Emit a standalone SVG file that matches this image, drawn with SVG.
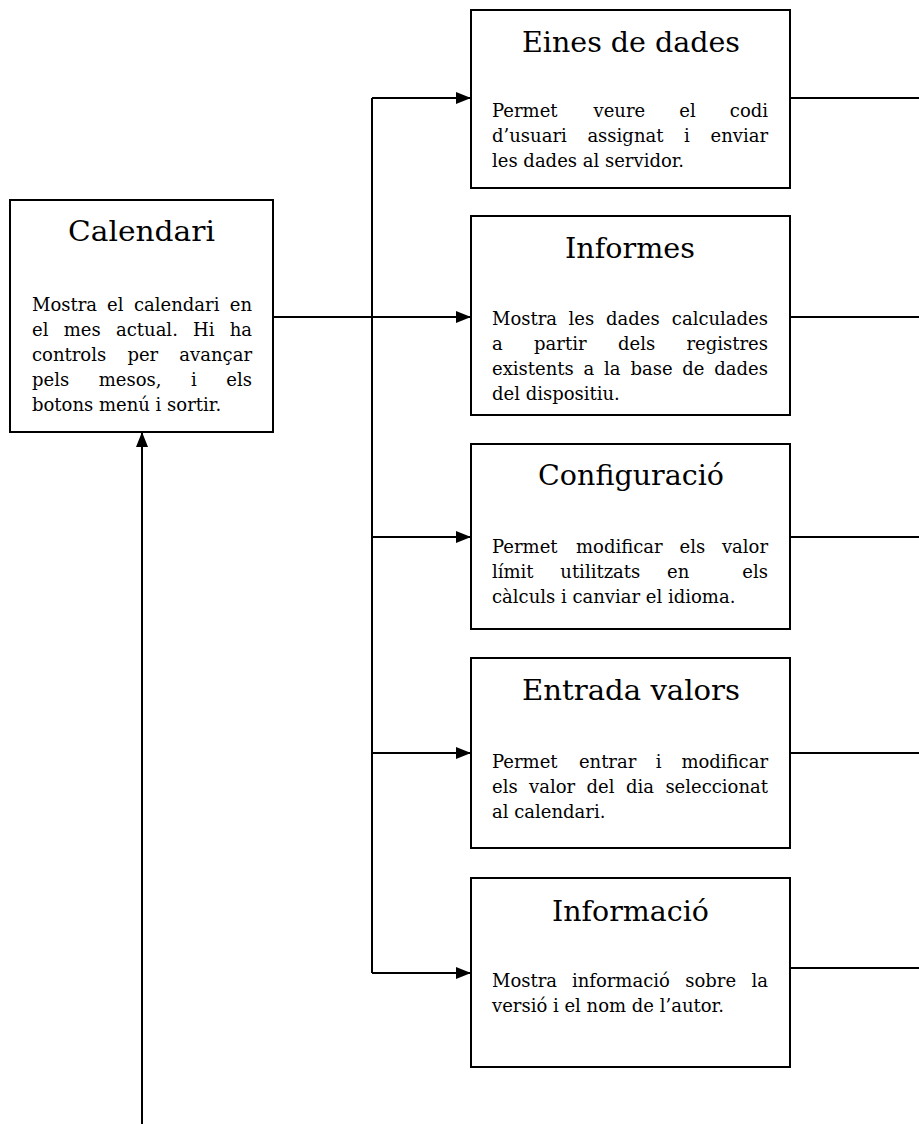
<svg xmlns="http://www.w3.org/2000/svg" width="919" height="1124" viewBox="0 0 919 1124">
  <style>
    .box { fill: #ffffff; stroke: #000000; stroke-width: 2; }
    .title { font-family: "DejaVu Serif", "Liberation Serif", serif; font-size: 27px; fill: #000000; }
    .body { font-family: "DejaVu Serif", "Liberation Serif", serif; font-size: 18px; fill: #000000; }
    .end { text-anchor: end; }
    .link { fill: none; stroke: #000000; stroke-width: 2; }
    .arrow { marker-end: url(#head); }
  </style>
  <defs>
    <marker id="head" markerUnits="userSpaceOnUse" markerWidth="15" markerHeight="12" refX="15" refY="6" orient="auto">
      <path d="M0,0 L15,6 L0,12 Z" fill="#000000"/>
    </marker>
  </defs>
  <rect width="919" height="1124" fill="#ffffff"/>

  <!-- connectors -->
  <g id="connectors">
    <path class="link arrow" d="M273,317 H471"/>
    <path class="link" d="M372,98 V973"/>
    <path class="link arrow" d="M372,98 H471"/>
    <path class="link arrow" d="M372,537 H471"/>
    <path class="link arrow" d="M372,753 H471"/>
    <path class="link arrow" d="M372,973 H471"/>
    <path class="link arrow" d="M142,1124 V432"/>
    <path class="link" d="M790,98 H919"/>
    <path class="link" d="M790,317 H919"/>
    <path class="link" d="M790,537 H919"/>
    <path class="link" d="M790,753 H919"/>
    <path class="link" d="M790,968 H919"/>
  </g>

  <!-- main screen; justified lines are set word by word -->
  <g id="calendari">
    <rect class="box" x="10" y="200" width="263" height="232"/>
    <text class="title" x="68" y="241" textLength="147" lengthAdjust="spacingAndGlyphs">Calendari</text>
    <text class="body" y="311"><tspan x="32">Mostra</tspan><tspan x="107">el</tspan><tspan x="134">calendari</tspan><tspan class="end" x="252">en</tspan></text>
    <text class="body" y="336"><tspan x="32">el</tspan><tspan x="63.7">mes</tspan><tspan x="116">actual.</tspan><tspan x="193">Hi</tspan><tspan class="end" x="252">ha</tspan></text>
    <text class="body" y="361"><tspan x="32">controls</tspan><tspan x="127.4">per</tspan><tspan class="end" x="252">avançar</tspan></text>
    <text class="body" y="386"><tspan x="32">pels</tspan><tspan x="98.8">mesos,</tspan><tspan x="191">i</tspan><tspan class="end" x="252">els</tspan></text>
    <text class="body" x="32" y="411">botons menú i sortir.</text>
  </g>

  <g id="eines-de-dades">
    <rect class="box" x="471" y="10" width="319" height="178"/>
    <text class="title" x="522" y="52" textLength="218" lengthAdjust="spacingAndGlyphs">Eines de dades</text>
    <text class="body" y="117"><tspan x="492">Permet</tspan><tspan x="593.5">veure</tspan><tspan x="679.3">el</tspan><tspan class="end" x="768">codi</tspan></text>
    <text class="body" y="142"><tspan x="492">d’usuari</tspan><tspan x="587.4">assignat</tspan><tspan x="684">i</tspan><tspan class="end" x="768">enviar</tspan></text>
    <text class="body" x="492" y="167">les dades al servidor.</text>
  </g>

  <g id="informes">
    <rect class="box" x="471" y="216" width="319" height="199"/>
    <text class="title" x="565" y="258" textLength="130" lengthAdjust="spacingAndGlyphs">Informes</text>
    <text class="body" y="325"><tspan x="492">Mostra</tspan><tspan x="568.5">les</tspan><tspan x="606.1">dades</tspan><tspan class="end" x="768">calculades</tspan></text>
    <text class="body" y="350"><tspan x="492">a</tspan><tspan x="534.1">partir</tspan><tspan x="618">dels</tspan><tspan class="end" x="768">registres</tspan></text>
    <text class="body" y="375"><tspan x="492">existents</tspan><tspan x="583.6">a</tspan><tspan x="604.1">la</tspan><tspan x="630.4">base</tspan><tspan x="682.3">de</tspan><tspan class="end" x="768">dades</tspan></text>
    <text class="body" x="492" y="400">del dispositiu.</text>
  </g>

  <g id="configuracio">
    <rect class="box" x="471" y="444" width="319" height="185"/>
    <text class="title" x="538" y="485" textLength="186" lengthAdjust="spacingAndGlyphs">Configuració</text>
    <text class="body" y="553"><tspan x="492">Permet</tspan><tspan x="576">modificar</tspan><tspan x="679.6">els</tspan><tspan class="end" x="768">valor</tspan></text>
    <text class="body" y="578"><tspan x="492">límit</tspan><tspan x="560.3">utilitzats</tspan><tspan x="667">en</tspan><tspan class="end" x="768">els</tspan></text>
    <text class="body" x="492" y="603">càlculs i canviar el idioma.</text>
  </g>

  <g id="entrada-valors">
    <rect class="box" x="471" y="658" width="319" height="190"/>
    <text class="title" x="522" y="700" textLength="218" lengthAdjust="spacingAndGlyphs">Entrada valors</text>
    <text class="body" y="768"><tspan x="492">Permet</tspan><tspan x="578.9">entrar</tspan><tspan x="655.8">i</tspan><tspan class="end" x="768">modificar</tspan></text>
    <text class="body" y="793"><tspan x="492">els</tspan><tspan x="529.1">valor</tspan><tspan x="586.6">del</tspan><tspan x="626">dia</tspan><tspan class="end" x="768">seleccionat</tspan></text>
    <text class="body" x="492" y="818">al calendari.</text>
  </g>

  <g id="informacio">
    <rect class="box" x="471" y="878" width="319" height="189"/>
    <text class="title" x="552" y="921" textLength="157" lengthAdjust="spacingAndGlyphs">Informació</text>
    <text class="body" y="987"><tspan x="492">Mostra</tspan><tspan x="571.9">informació</tspan><tspan x="685.2">sobre</tspan><tspan class="end" x="768">la</tspan></text>
    <text class="body" x="492" y="1012">versió i el nom de l’autor.</text>
  </g>
</svg>
